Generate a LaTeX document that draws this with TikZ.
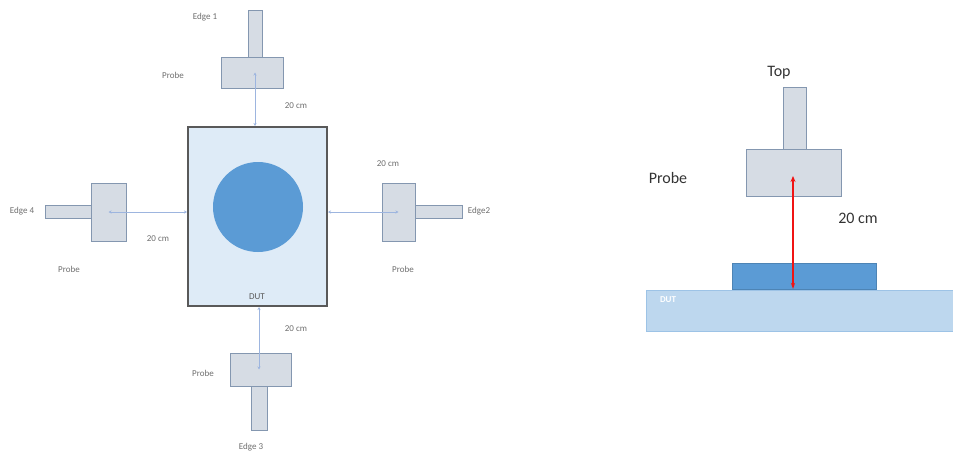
\documentclass[tikz,border=0pt]{standalone}
\usepackage{fontspec}
\setmainfont{Carlito}
\usetikzlibrary{arrows.meta}
\definecolor{probefill}{HTML}{D6DCE4}
\definecolor{probeline}{HTML}{8497B0}
\definecolor{dutfill}{HTML}{DEEBF7}
\definecolor{dutline}{HTML}{595959}
\definecolor{disc}{HTML}{5B9BD5}
\definecolor{slab}{HTML}{BDD7EE}
\definecolor{slabline}{HTML}{9DC3E6}
\definecolor{wire}{HTML}{9DB5DF}
\definecolor{labelgray}{HTML}{6E6E6E}
\definecolor{gap}{RGB}{240,20,20}
\begin{document}
\begin{tikzpicture}[x=1pt,y=-1pt,
  part/.style={draw=probeline,fill=probefill,line width=0.7pt,rectangle,inner sep=0pt},
  small/.style={font=\fontsize{9}{10}\selectfont,text=labelgray,inner sep=0pt},
  big/.style={font=\fontsize{16}{18}\selectfont,text=black!80,inner sep=0pt},
  wireline/.style={draw=wire,line width=0.6pt,{Stealth[length=3pt,width=3pt]}-{Stealth[length=3pt,width=3pt]}}]
\useasboundingbox (0,0) rectangle (953,455);

% ---- plan view: DUT with four probes ----
\node[draw=dutline,fill=dutfill,line width=2pt,rectangle,inner sep=0pt,
      minimum width=139pt,minimum height=179pt] (dut) at (257.5,216.5) {};
\node[circle,fill=disc,inner sep=0pt,minimum size=90pt] (disk) at (258,207) {};
\node[small,text=dutline] (dutlbl) at (257,297) {DUT};

% top probe (Edge 1)
\node[part,minimum width=14pt,minimum height=47pt] (ts) at (255,33.5) {};
\node[part,minimum width=62pt,minimum height=31pt] (tb) at (252,72.5) {};
\node[small] (tedge) at (205,17) {Edge 1};
\node[small] (tprobe) at (173,75) {Probe};
\node[small] (tdist) at (296,106) {20 cm};

% left probe (Edge 4)
\node[part,minimum width=46pt,minimum height=13pt] (ls) at (68,211.5) {};
\node[part,minimum width=35pt,minimum height=58pt] (lb) at (108.5,212) {};
\node[small] (ledge) at (22,211) {Edge 4};
\node[small] (lprobe) at (69,269) {Probe};
\node[small] (ldist) at (158,239) {20 cm};

% right probe (Edge2)
\node[part,minimum width=47pt,minimum height=13pt] (rs) at (438.5,211.5) {};
\node[part,minimum width=33pt,minimum height=58pt] (rb) at (398.5,212) {};
\node[small] (redge) at (479,211) {Edge2};
\node[small] (rprobe) at (403,269) {Probe};
\node[small] (rdist) at (388,164) {20 cm};

% bottom probe (Edge 3)
\node[part,minimum width=16pt,minimum height=44pt] (bs) at (259,408) {};
\node[part,minimum width=61pt,minimum height=33pt] (bb) at (260.5,369.5) {};
\node[small] (bedge) at (251,447) {Edge 3};
\node[small] (bprobe) at (203,373) {Probe};
\node[small] (bdist) at (296,329) {20 cm};

% probe-to-DUT spacing lines
\draw[wireline] (ts.center |- tb.center) -- (ts.center |- dut.north);
\draw[wireline] (lb.center) -- (lb.center -| dut.west);
\draw[wireline] (rb.center) -- (rb.center -| dut.east);
\draw[wireline] (bs.center |- bb.center) -- (bs.center |- dut.south);

% ---- side view: probe above DUT ----
\node[draw=slabline,fill=slab,line width=0.8pt,rectangle,inner sep=0pt,anchor=north west,
      minimum width=312pt,minimum height=41pt] (slab) at (646,290) {};
\node[draw=disc!85!black,fill=disc,line width=0.7pt,rectangle,inner sep=0pt,anchor=south west,
      minimum width=144pt,minimum height=26pt] (chip) at (732,290) {};
\node[font=\fontsize{9}{10}\selectfont\bfseries,text=white,inner sep=0pt] (slablbl) at (668,300) {DUT};
\node[part,minimum width=23pt,minimum height=62pt] (sstem) at (794.5,118) {};
\node[part,minimum width=95pt,minimum height=47pt] (sbody) at (793.5,172.5) {};
\node[big] (stop) at (779,73) {Top};
\node[big] (sprobe) at (668,178) {Probe};
\node[big] (sdist) at (858,218) {20 cm};
\coordinate (sfoot) at (793,289);
\coordinate (shead) at (793,176);
\draw[gap,line width=1.3pt,{Stealth[length=6pt,width=4pt]}-{Stealth[length=6pt,width=5pt]}] (sfoot) -- (shead);
\end{tikzpicture}
\end{document}
